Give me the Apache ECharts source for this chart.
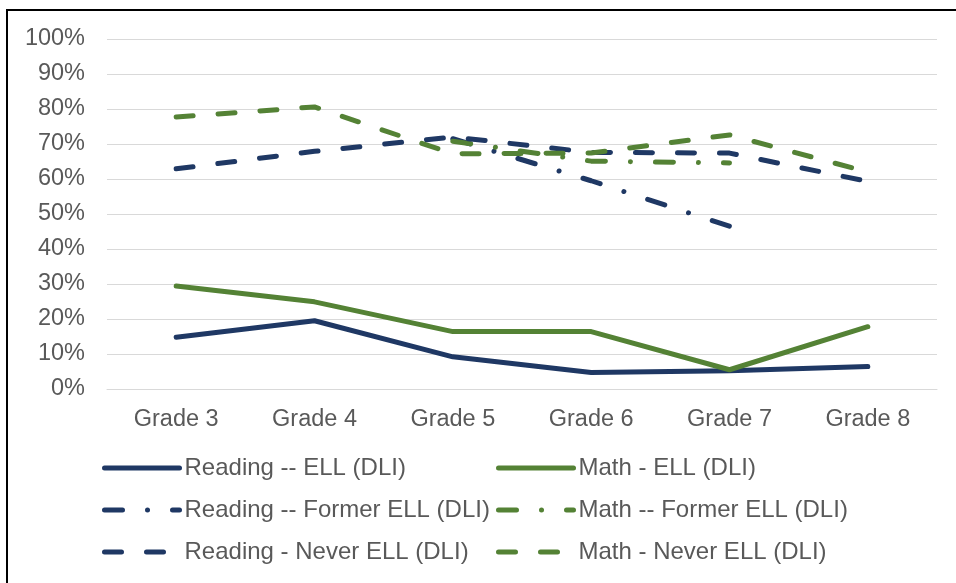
<!DOCTYPE html>
<html>
<head>
<meta charset="utf-8">
<script src="https://cdn.jsdelivr.net/npm/echarts@6/dist/echarts.min.js"></script>
<style>
  html, body { margin: 0; padding: 0; background: #fff; }
  #chart { position: absolute; left: 0; top: 0; width: 956px; height: 583px; }
  #frame {
    position: absolute; left: 6px; top: 9px; width: 1000px; height: 700px;
    border: 2px solid #000; box-sizing: border-box; pointer-events: none;
  }
</style>
</head>
<body>
<div id="chart"></div>
<div id="frame"></div>
<script>
const grades = ['Grade 3', 'Grade 4', 'Grade 5', 'Grade 6', 'Grade 7', 'Grade 8'];

const readingEll = [14.8, 19.5, 9.2, 4.7, 5.2, 6.4];
const mathEll = [29.4, 24.9, 16.4, 16.4, 5.5, 17.8];
const readingFormer = [null, null, 71.5, 59.5, 46.5, null];
const mathFormer = [null, null, 70.8, 65.1, 64.6, null];
const readingNever = [62.9, 67.9, 72.0, 67.6, 67.4, 59.3];
const mathNever = [77.7, 80.6, 67.2, 67.4, 72.6, 62.0];

const NAVY = '#1f3864';
const GREEN = '#548235';
const TEXT = '#595959';
const FONT = '"Liberation Sans", Arial, sans-serif';

const solid = 'solid';
const dashDot = [18, 25, 0.01, 25];
const dash = [17, 25];

function line(name, data, color, type) {
  return {
    name,
    type: 'line',
    data,
    symbol: 'none',
    showSymbol: false,
    connectNulls: false,
    lineStyle: { color, width: 5, type, cap: 'round', join: 'round' },
    itemStyle: { color },
  };
}

const chart = echarts.init(document.getElementById('chart'), null, { renderer: 'canvas' });

const legendBase = {
  orient: 'vertical',
  top: 456,
  padding: 0,
  itemWidth: 75,
  itemHeight: 14,
  itemGap: 18,
  itemStyle: { opacity: 0 },
  lineStyle: { width: 5, cap: 'round' },
  textStyle: { color: TEXT, fontSize: 24, fontFamily: FONT },
  selectedMode: false,
};

chart.setOption({
  animation: false,
  backgroundColor: '#fff',
  textStyle: { fontFamily: FONT },
  grid: { left: 107, right: 19, top: 39, bottom: 194 },
  legend: [
    Object.assign({}, legendBase, {
      left: 102,
      data: ['Reading -- ELL (DLI)', 'Reading -- Former ELL (DLI)', 'Reading - Never ELL (DLI)'],
    }),
    Object.assign({}, legendBase, {
      left: 496,
      data: ['Math - ELL (DLI)', 'Math -- Former ELL (DLI)', 'Math - Never ELL (DLI)'],
    }),
  ],
  xAxis: {
    type: 'category',
    data: grades,
    boundaryGap: true,
    axisLine: { lineStyle: { color: '#d9d9d9', width: 1 } },
    axisTick: { show: false },
    axisLabel: { color: TEXT, fontSize: 23.5, fontFamily: FONT, margin: 19 },
  },
  yAxis: {
    type: 'value',
    min: 0,
    max: 100,
    interval: 10,
    axisLine: { show: false },
    axisTick: { show: false },
    axisLabel: { color: TEXT, fontSize: 23.5, fontFamily: FONT, margin: 22, formatter: '{value}%' },
    splitLine: { lineStyle: { color: '#d9d9d9', width: 1 } },
  },
  series: [
    line('Reading -- ELL (DLI)', readingEll, NAVY, solid),
    line('Math - ELL (DLI)', mathEll, GREEN, solid),
    line('Reading -- Former ELL (DLI)', readingFormer, NAVY, dashDot),
    line('Math -- Former ELL (DLI)', mathFormer, GREEN, dashDot),
    line('Reading - Never ELL (DLI)', readingNever, NAVY, dash),
    line('Math - Never ELL (DLI)', mathNever, GREEN, dash),
  ],
});
</script>
</body>
</html>
